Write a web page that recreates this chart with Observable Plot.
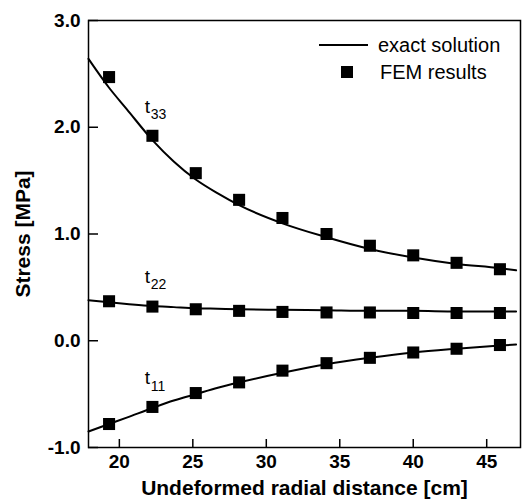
<!DOCTYPE html>
<html>
<head>
<meta charset="utf-8">
<script src="https://cdn.jsdelivr.net/npm/d3@7"></script>
<script src="https://cdn.jsdelivr.net/npm/@observablehq/plot@0.6"></script>
<style>
  body { margin: 0; background: #fff; }
  #chart { position: relative; width: 528px; height: 504px; font-family: "Liberation Sans", Arial, Helvetica, sans-serif; }
  #legend { position: absolute; left: 0; top: 0; pointer-events: none; }
</style>
</head>
<body>
<div id="chart"></div>
<script>
// FEM nodal results: radial position [cm] and stress components [MPa]
const femX   = [19.3, 22.25, 25.2, 28.15, 31.1, 34.1, 37.05, 40.0, 42.95, 45.9];
const femT33 = [2.47, 1.92, 1.57, 1.32, 1.15, 1.00, 0.89, 0.80, 0.73, 0.67];
const femT22 = [0.37, 0.32, 0.295, 0.28, 0.27, 0.265, 0.265, 0.26, 0.26, 0.26];
const femT11 = [-0.78, -0.62, -0.49, -0.39, -0.28, -0.21, -0.16, -0.11, -0.075, -0.04];

// Exact (analytical) solution sampled along the radius
const exactX   = [17.9, 19.3, 20.5, 22.25, 23.7, 25.2, 26.7, 28.15, 31.1, 34.1, 37.05, 40.0, 42.95, 45.9, 47.0];
const exactT33 = [2.64, 2.37, 2.17, 1.88, 1.68, 1.51, 1.38, 1.27, 1.10, 0.97, 0.86, 0.78, 0.72, 0.68, 0.66];
const exactT22 = [0.38, 0.36, 0.345, 0.325, 0.315, 0.305, 0.30, 0.295, 0.29, 0.285, 0.28, 0.28, 0.275, 0.275, 0.275];
const exactT11 = [-0.85, -0.78, -0.72, -0.63, -0.56, -0.50, -0.44, -0.39, -0.30, -0.22, -0.16, -0.11, -0.075, -0.045, -0.035];

// Component labels (t with subscript) placed at data positions
const compName = ["t", "t", "t"];
const compSub  = ["33", "22", "11"];
const compX    = [21.72, 21.72, 21.72];
const compY    = [2.19, 0.60, -0.35];

// Axis ticks and titles
const xTicks = [20, 25, 30, 35, 40, 45];
const yTicks = [-1, 0, 1, 2, 3];
const xTitle = "Undeformed radial distance [cm]";
const yTitle = "Stress [MPa]";
const legendLine = "exact solution";
const legendDot  = "FEM results";

const femRows = [femT33, femT22, femT11].flatMap((ys, s) =>
  femX.map((x, i) => ({x, y: ys[i], s})));
const exactRows = [exactT33, exactT22, exactT11].flatMap((ys, s) =>
  exactX.map((x, i) => ({x, y: ys[i], s})));
const compIdx = d3.range(compName.length);

const chart = Plot.plot({
  width: 528,
  height: 504,
  marginLeft: 88,
  marginRight: 8,
  marginTop: 20,
  marginBottom: 57,
  style: {
    fontFamily: '"Liberation Sans", Arial, Helvetica, sans-serif',
    fontSize: "19px",
    fontWeight: "bold",
    color: "black",
    background: "white"
  },
  x: {domain: [17.9, 47.3]},
  y: {domain: [-1, 3]},
  marks: [
    Plot.axisX({ticks: xTicks, tickSize: -8, tickPadding: 15, strokeWidth: 1.5,
      tickFormat: d => String(d), label: null}),
    Plot.axisY({ticks: yTicks, tickSize: -10, tickPadding: 18, strokeWidth: 1.5,
      tickFormat: d => d.toFixed(1), label: null}),
    Plot.frame({stroke: "black", strokeWidth: 1.5}),
    Plot.line(exactRows, {x: "x", y: "y", z: "s", stroke: "black", strokeWidth: 2, curve: "monotone-x"}),
    Plot.dot(femRows, {x: "x", y: "y", symbol: "square", r: 6.8, fill: "black", stroke: null}),
    Plot.text(compIdx, {x: i => compX[i], y: i => compY[i], text: i => compName[i],
      textAnchor: "start", fontSize: 19, fontWeight: "normal"}),
    Plot.text(compIdx, {x: i => compX[i], y: i => compY[i], text: i => compSub[i],
      textAnchor: "start", fontSize: 14, fontWeight: "normal", dx: 6, dy: 8}),
    Plot.text([xTitle], {frameAnchor: "bottom", lineAnchor: "middle", textAnchor: "middle",
      dy: 41, fontSize: 21, fontWeight: "bold"}),
    Plot.text([yTitle], {frameAnchor: "left", lineAnchor: "middle", textAnchor: "middle",
      rotate: -90, dx: -65, fontSize: 21, fontWeight: "bold"})
  ]
});

const host = document.getElementById("chart");
host.appendChild(chart);

// Legend drawn over the upper right of the plot area
const ns = "http://www.w3.org/2000/svg";
const leg = document.createElementNS(ns, "svg");
leg.setAttribute("id", "legend");
leg.setAttribute("width", 528);
leg.setAttribute("height", 100);
leg.innerHTML = `
  <line x1="319" y1="45" x2="368" y2="45" stroke="black" stroke-width="2"/>
  <text x="378" y="45" dominant-baseline="central" font-size="20" font-family='"Liberation Sans", Arial, sans-serif'>${legendLine}</text>
  <rect x="341" y="66" width="12" height="12" fill="black"/>
  <text x="380" y="72" dominant-baseline="central" font-size="20" font-family='"Liberation Sans", Arial, sans-serif'>${legendDot}</text>`;
host.appendChild(leg);
</script>
</body>
</html>
